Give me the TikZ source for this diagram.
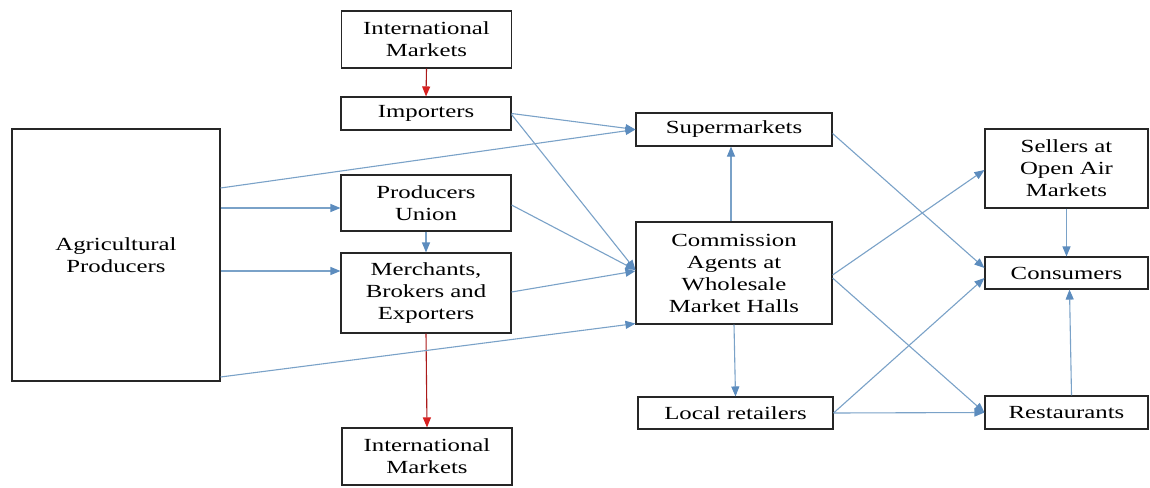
\documentclass[tikz,border=0pt]{standalone}
\usepackage{fontspec}
\setmainfont{Liberation Serif}[FakeStretch=1.34]
\usetikzlibrary{arrows.meta,calc}
\definecolor{lineblue}{RGB}{122,162,200}
\definecolor{headblue}{RGB}{92,140,190}
\definecolor{arrred}{RGB}{214,32,32}
\begin{document}
\begin{tikzpicture}[x=1pt,y=-1pt,
  box/.style={draw=black!85,line width=1.1pt,fill=white,inner sep=0pt,align=center,
    font=\fontsize{18.5}{22}\selectfont},
  conn/.style={draw=lineblue,line width=1.1pt,-{Triangle[length=10pt,width=8pt,fill=headblue,color=headblue]}},
  redconn/.style={draw=arrred!80!black,line width=1.1pt,-{Triangle[length=10pt,width=8pt,color=arrred]}}]
\useasboundingbox (0,0) rectangle (1150,487);
\fill[white] (0,0) rectangle (1150,487);
% nodes
\node[box,minimum width=170pt,minimum height=57pt] (imtop) at (426.5,39.5) {International\\Markets};
\node[box,minimum width=170pt,minimum height=33pt] (imp) at (426,113.5) {Importers};
\node[box,minimum width=208pt,minimum height=252pt] (agri) at (116,255) {Agricultural\\Producers};
\node[box,minimum width=170pt,minimum height=56pt] (pu) at (426,203) {Producers\\Union};
\node[box,minimum width=170pt,minimum height=80pt] (merch) at (426,293) {Merchants,\\Brokers and\\Exporters};
\node[box,minimum width=170pt,minimum height=57pt] (imbot) at (427,456.5) {International\\Markets};
\node[box,minimum width=196pt,minimum height=33pt] (super) at (734,129.5) {Supermarkets};
\node[box,minimum width=196pt,minimum height=102pt] (comm) at (734,273) {Commission\\Agents at\\Wholesale\\Market Halls};
\node[box,minimum width=195pt,minimum height=32pt] (local) at (735.5,413) {Local retailers};
\node[box,minimum width=163pt,minimum height=79pt] (sellers) at (1066.5,168.5) {Sellers at\\Open Air\\Markets};
\node[box,minimum width=163pt,minimum height=32pt] (cons) at (1066.5,273) {Consumers};
\node[box,minimum width=163pt,minimum height=33pt] (rest) at (1066.5,412.5) {Restaurants};
% helper coordinates (yshift positive = upwards)
\coordinate (a1) at ([yshift=67pt]agri.east);
\coordinate (a2) at ([yshift=47pt]agri.east);
\coordinate (a3) at ([yshift=-16pt]agri.east);
\coordinate (a4) at ([yshift=-122pt]agri.east);
% red connectors
\draw[redconn] (imtop.south) -- (imp.north);
\draw[redconn] (merch.south) -- (imbot.north);
% blue connectors
\draw[conn] (imp.east) -- (super.west);
\draw[conn] ([yshift=-1pt]imp.east) -- ([yshift=3pt]comm.west);
\draw[conn] (a1) -- (super.west);
\draw[conn] (a2) -- (a2 -| pu.west);
\draw[conn] (a3) -- (a3 -| merch.west);
\draw[conn] (a4) -- ([yshift=1pt]comm.south west);
\draw[conn] (pu.south) -- (merch.north);
\draw[conn] ([yshift=-2pt]pu.east) -- ([yshift=3pt]comm.west);
\draw[conn] ([yshift=1pt]merch.east) -- ([yshift=2pt]comm.west);
\draw[conn] ([xshift=-3pt]comm.north) -- ([xshift=-3pt]super.south);
\draw[conn] (comm.south) -- (local.north);
\draw[conn] ([yshift=-4pt]super.east) -- ([yshift=5pt]cons.west);
\draw[conn] ([yshift=-2pt]comm.east) -- ([yshift=-1.5pt]sellers.west);
\draw[conn] ([yshift=-5pt]comm.east) -- (rest.west);
\draw[conn] (local.east) -- ([yshift=-5pt]cons.west);
\draw[conn] (local.east) -- (rest.west);
\draw[conn] (sellers.south) -- (cons.north);
\draw[conn] ([xshift=5pt]rest.north) -- ([xshift=3pt]cons.south);
\end{tikzpicture}
\end{document}
